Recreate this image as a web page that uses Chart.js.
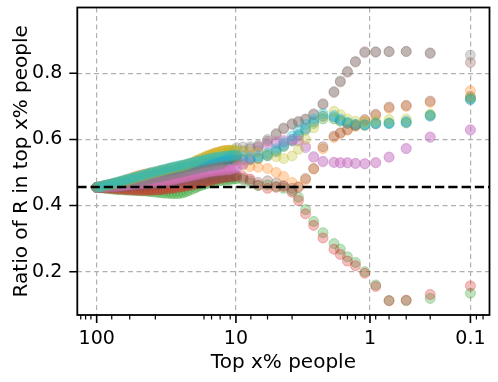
<!DOCTYPE html>
<html>
<head>
<meta charset="utf-8">
<script src="https://cdn.jsdelivr.net/npm/chart.js@4"></script>
<style>
    body { margin: 0; background: #ffffff; }
    #chart { display: block; }
</style>
</head>
<body>
<canvas id="chart" width="498" height="382"></canvas>
<script>
// x: top x% of people (the plot puts log10(x + offset) on the axis)
const topPercent = [
    99.9, 95.1, 90.5, 86.1, 81.9, 77.9, 74.1, 70.5, 67.1, 63.9,
    60.9, 57.9, 55.1, 52.5, 49.9, 47.5, 45.3, 43.1, 41.1, 39.1,
    37.1, 35.3, 33.7, 32.1, 30.5, 29.1, 27.7, 26.3, 25.1, 23.9,
    22.7, 21.7, 20.5, 19.5, 18.7, 17.7, 16.9, 16.1, 15.3, 14.5,
    13.9, 13.1, 12.5, 11.9, 11.3, 10.9, 10.3, 9.9, 8.9, 7.9,
    6.9, 5.9, 5.1, 4.5, 3.9, 3.5, 3.1, 2.7, 2.3, 1.9,
    1.7, 1.5, 1.3, 1.1, 0.9, 0.7, 0.5, 0.3, 0.1
];
const X_OFFSET = 0.113;
const xLimits = [137.6, 0.0426];
const xTickValues = [100, 10, 1, 0.1];
const xTickLabels = ['100', '10', '1', '0.1'];
const xMinorTicks = [130, 120, 110, 78, 58, 38, 17, 15, 13, 11, 7.8, 5.9, 3.9, 1.7, 1.5, 1.3, 1.1, 0.9, 0.7, 0.5, 0.3, 0.08, 0.06];

const yLimits = [0.069, 0.999];
const yTickValues = [0.2, 0.4, 0.6, 0.8];
const baselineRatio = 0.456;

// ratio of R in the top x% people, one list per run
const ratioBrownB = [
    0.455, 0.455, 0.456, 0.456, 0.457, 0.457, 0.458, 0.458, 0.459, 0.460,
    0.461, 0.462, 0.463, 0.464, 0.465, 0.466, 0.467, 0.468, 0.469, 0.470,
    0.471, 0.472, 0.473, 0.474, 0.475, 0.476, 0.477, 0.478, 0.479, 0.480,
    0.481, 0.482, 0.483, 0.484, 0.485, 0.486, 0.487, 0.488, 0.489, 0.490,
    0.491, 0.494, 0.498, 0.505, 0.515, 0.527, 0.539, 0.550, 0.565, 0.572,
    0.578, 0.595, 0.615, 0.632, 0.645, 0.652, 0.660, 0.675, 0.708, 0.742,
    0.774, 0.803, 0.834, 0.865, 0.864, 0.866, 0.866, 0.860, 0.833
];
const ratioGreenB = [
    0.455, 0.456, 0.458, 0.460, 0.462, 0.464, 0.466, 0.468, 0.470, 0.472,
    0.474, 0.476, 0.478, 0.480, 0.482, 0.484, 0.486, 0.488, 0.490, 0.492,
    0.494, 0.496, 0.498, 0.500, 0.502, 0.504, 0.506, 0.508, 0.510, 0.512,
    0.514, 0.516, 0.518, 0.520, 0.522, 0.524, 0.526, 0.528, 0.529, 0.530,
    0.531, 0.532, 0.533, 0.534, 0.535, 0.536, 0.536, 0.537, 0.537, 0.538,
    0.542, 0.550, 0.562, 0.578, 0.595, 0.610, 0.628, 0.648, 0.662, 0.662,
    0.655, 0.648, 0.642, 0.642, 0.648, 0.650, 0.650, 0.674, 0.724
];
const ratioBlue = [
    0.455, 0.457, 0.459, 0.461, 0.463, 0.465, 0.467, 0.469, 0.471, 0.473,
    0.475, 0.477, 0.479, 0.481, 0.483, 0.485, 0.487, 0.489, 0.491, 0.493,
    0.495, 0.497, 0.499, 0.501, 0.503, 0.505, 0.507, 0.509, 0.511, 0.513,
    0.515, 0.517, 0.519, 0.521, 0.523, 0.525, 0.527, 0.529, 0.531, 0.533,
    0.535, 0.536, 0.537, 0.538, 0.539, 0.540, 0.541, 0.541, 0.540, 0.540,
    0.544, 0.552, 0.566, 0.582, 0.600, 0.615, 0.633, 0.654, 0.670, 0.668,
    0.658, 0.650, 0.645, 0.644, 0.647, 0.648, 0.652, 0.670, 0.720
];
const ratioOrange = [
    0.455, 0.457, 0.459, 0.461, 0.463, 0.465, 0.468, 0.470, 0.473, 0.476,
    0.479, 0.482, 0.485, 0.488, 0.491, 0.493, 0.495, 0.497, 0.499, 0.501,
    0.503, 0.505, 0.507, 0.509, 0.511, 0.513, 0.515, 0.517, 0.519, 0.521,
    0.523, 0.526, 0.529, 0.533, 0.537, 0.541, 0.545, 0.549, 0.553, 0.557,
    0.560, 0.563, 0.565, 0.567, 0.567, 0.565, 0.555, 0.540, 0.522, 0.518,
    0.516, 0.512, 0.500, 0.488, 0.470, 0.458, 0.478, 0.510, 0.572, 0.606,
    0.618, 0.628, 0.640, 0.656, 0.672, 0.694, 0.700, 0.712, 0.747
];
const ratioGreen = [
    0.455, 0.454, 0.453, 0.452, 0.451, 0.450, 0.449, 0.448, 0.448, 0.447,
    0.447, 0.446, 0.446, 0.445, 0.445, 0.444, 0.444, 0.443, 0.442, 0.441,
    0.440, 0.439, 0.438, 0.437, 0.437, 0.436, 0.436, 0.436, 0.437, 0.439,
    0.442, 0.446, 0.450, 0.454, 0.458, 0.461, 0.464, 0.467, 0.469, 0.471,
    0.473, 0.475, 0.476, 0.477, 0.478, 0.479, 0.480, 0.481, 0.478, 0.468,
    0.460, 0.462, 0.458, 0.452, 0.445, 0.425, 0.388, 0.352, 0.318, 0.285,
    0.268, 0.245, 0.228, 0.200, 0.160, 0.113, 0.112, 0.119, 0.135
];
const ratioRed = [
    0.455, 0.454, 0.454, 0.453, 0.452, 0.452, 0.451, 0.450, 0.450, 0.449,
    0.448, 0.448, 0.447, 0.447, 0.446, 0.446, 0.446, 0.446, 0.446, 0.447,
    0.447, 0.448, 0.449, 0.450, 0.451, 0.452, 0.453, 0.455, 0.456, 0.458,
    0.459, 0.461, 0.463, 0.465, 0.467, 0.469, 0.471, 0.474, 0.476, 0.478,
    0.480, 0.482, 0.484, 0.486, 0.487, 0.488, 0.489, 0.490, 0.488, 0.480,
    0.462, 0.452, 0.455, 0.458, 0.440, 0.415, 0.375, 0.340, 0.302, 0.268,
    0.252, 0.232, 0.218, 0.195, 0.155, 0.112, 0.114, 0.131, 0.157
];
const ratioPurple = [
    0.455, 0.455, 0.455, 0.456, 0.456, 0.457, 0.457, 0.458, 0.458, 0.459,
    0.460, 0.461, 0.462, 0.463, 0.464, 0.465, 0.466, 0.467, 0.468, 0.469,
    0.470, 0.471, 0.472, 0.473, 0.474, 0.475, 0.476, 0.477, 0.479, 0.481,
    0.483, 0.485, 0.487, 0.489, 0.491, 0.493, 0.495, 0.497, 0.499, 0.500,
    0.501, 0.502, 0.503, 0.504, 0.505, 0.506, 0.508, 0.512, 0.525, 0.542,
    0.565, 0.582, 0.590, 0.594, 0.596, 0.595, 0.575, 0.548, 0.534, 0.530,
    0.529, 0.529, 0.527, 0.526, 0.530, 0.546, 0.572, 0.606, 0.628
];
const ratioBrown = [
    0.455, 0.455, 0.455, 0.456, 0.456, 0.456, 0.457, 0.457, 0.457, 0.458,
    0.458, 0.459, 0.459, 0.460, 0.460, 0.461, 0.461, 0.462, 0.462, 0.463,
    0.463, 0.464, 0.465, 0.466, 0.467, 0.468, 0.469, 0.470, 0.471, 0.472,
    0.473, 0.474, 0.475, 0.476, 0.477, 0.478, 0.479, 0.480, 0.481, 0.482,
    0.483, 0.484, 0.485, 0.486, 0.487, 0.488, 0.489, 0.488, 0.482, 0.475,
    0.470, 0.475, 0.468, 0.460, 0.452, 0.455, 0.482, 0.512, 0.578, 0.610,
    0.620, 0.630, 0.642, 0.660, 0.676, 0.698, 0.703, 0.716, 0.730
];
const ratioPink = [
    0.455, 0.455, 0.456, 0.456, 0.457, 0.458, 0.458, 0.459, 0.460, 0.461,
    0.462, 0.463, 0.464, 0.465, 0.466, 0.467, 0.468, 0.469, 0.470, 0.471,
    0.472, 0.473, 0.474, 0.475, 0.476, 0.477, 0.479, 0.481, 0.483, 0.485,
    0.487, 0.489, 0.491, 0.493, 0.495, 0.497, 0.499, 0.501, 0.503, 0.504,
    0.505, 0.506, 0.507, 0.508, 0.509, 0.510, 0.512, 0.515, 0.530, 0.550,
    0.575, 0.590, 0.595, 0.598, 0.600, 0.598, 0.580, 0.545, 0.532, 0.531,
    0.530, 0.530, 0.528, 0.527, 0.529, 0.547, 0.573, 0.608, 0.630
];
const ratioGray = [
    0.455, 0.456, 0.457, 0.458, 0.459, 0.460, 0.461, 0.462, 0.464, 0.465,
    0.467, 0.468, 0.470, 0.471, 0.473, 0.474, 0.476, 0.478, 0.480, 0.482,
    0.484, 0.486, 0.488, 0.490, 0.492, 0.494, 0.496, 0.498, 0.500, 0.502,
    0.504, 0.506, 0.508, 0.510, 0.512, 0.514, 0.516, 0.518, 0.520, 0.521,
    0.522, 0.524, 0.528, 0.535, 0.545, 0.555, 0.566, 0.575, 0.577, 0.578,
    0.582, 0.600, 0.618, 0.635, 0.648, 0.655, 0.662, 0.678, 0.705, 0.745,
    0.777, 0.806, 0.836, 0.862, 0.865, 0.865, 0.866, 0.862, 0.855
];
const ratioOlive = [
    0.455, 0.457, 0.459, 0.461, 0.463, 0.465, 0.467, 0.469, 0.472, 0.474,
    0.477, 0.479, 0.482, 0.484, 0.487, 0.489, 0.492, 0.494, 0.497, 0.499,
    0.501, 0.504, 0.506, 0.508, 0.511, 0.513, 0.515, 0.517, 0.519, 0.521,
    0.524, 0.527, 0.531, 0.535, 0.539, 0.543, 0.547, 0.551, 0.554, 0.557,
    0.560, 0.562, 0.564, 0.566, 0.567, 0.568, 0.568, 0.567, 0.565, 0.562,
    0.560, 0.555, 0.548, 0.542, 0.550, 0.570, 0.600, 0.635, 0.670, 0.685,
    0.675, 0.662, 0.655, 0.652, 0.655, 0.660, 0.662, 0.676, 0.726
];
const ratioCyan = [
    0.455, 0.457, 0.459, 0.462, 0.464, 0.466, 0.469, 0.471, 0.474, 0.476,
    0.479, 0.481, 0.484, 0.486, 0.489, 0.491, 0.494, 0.496, 0.499, 0.501,
    0.503, 0.506, 0.508, 0.510, 0.513, 0.515, 0.517, 0.519, 0.521, 0.523,
    0.525, 0.527, 0.530, 0.532, 0.534, 0.536, 0.538, 0.540, 0.542, 0.544,
    0.545, 0.547, 0.548, 0.549, 0.550, 0.551, 0.552, 0.552, 0.548, 0.546,
    0.550, 0.558, 0.572, 0.590, 0.610, 0.628, 0.645, 0.662, 0.678, 0.672,
    0.662, 0.652, 0.646, 0.645, 0.650, 0.648, 0.655, 0.672, 0.722
];

// drawing order: first in list ends up at the bottom
const seriesList = [
    { values: ratioBrownB, rgb: '140, 86, 75' },
    { values: ratioGreenB, rgb: '44, 160, 44' },
    { values: ratioBlue, rgb: '31, 119, 180' },
    { values: ratioOrange, rgb: '255, 127, 14' },
    { values: ratioGreen, rgb: '44, 160, 44' },
    { values: ratioRed, rgb: '214, 39, 40' },
    { values: ratioPurple, rgb: '148, 103, 189' },
    { values: ratioBrown, rgb: '140, 86, 75' },
    { values: ratioPink, rgb: '227, 119, 194' },
    { values: ratioGray, rgb: '127, 127, 127' },
    { values: ratioOlive, rgb: '188, 189, 34' },
    { values: ratioCyan, rgb: '23, 190, 207' }
];

const FONT = 'DejaVu Sans';

function toAxis(p) {
    return Math.log10(p + X_OFFSET);
}

// 데이터셋 만들기
const datasets = seriesList.map((s, i) => ({
    data: topPercent.map((p, j) => ({ x: toAxis(p), y: s.values[j] })),
    backgroundColor: 'rgba(' + s.rgb + ', 0.3)',
    borderColor: 'rgba(' + s.rgb + ', 0.3)',
    borderWidth: 1,
    pointRadius: 5,
    pointHoverRadius: 5,
    order: seriesList.length - i
}));

// frame, tick marks and the dashed reference line
const decorations = {
    id: 'decorations',
    afterDatasetsDraw(chart) {
        const { ctx, chartArea, scales } = chart;
        const y = scales.y.getPixelForValue(baselineRatio);
        ctx.save();
        ctx.strokeStyle = '#000';
        ctx.lineWidth = 2.6;
        ctx.setLineDash([9.25, 4]);
        ctx.beginPath();
        ctx.moveTo(chartArea.left, y);
        ctx.lineTo(chartArea.right, y);
        ctx.stroke();
        ctx.restore();
    },
    afterDraw(chart) {
        const { ctx, chartArea, scales } = chart;
        ctx.save();
        ctx.strokeStyle = '#000';
        ctx.setLineDash([]);

        // major ticks
        ctx.lineWidth = 1.6;
        ctx.beginPath();
        xTickValues.forEach(v => {
            const px = scales.x.getPixelForValue(toAxis(v));
            ctx.moveTo(px, chartArea.bottom);
            ctx.lineTo(px, chartArea.bottom + 8);
        });
        yTickValues.forEach(v => {
            const py = scales.y.getPixelForValue(v);
            ctx.moveTo(chartArea.left, py);
            ctx.lineTo(chartArea.left - 8, py);
        });
        ctx.stroke();

        // minor ticks
        ctx.lineWidth = 1.2;
        ctx.beginPath();
        xMinorTicks.forEach(v => {
            const px = scales.x.getPixelForValue(toAxis(v));
            if (px < chartArea.left || px > chartArea.right) return;
            ctx.moveTo(px, chartArea.bottom);
            ctx.lineTo(px, chartArea.bottom + 4.5);
        });
        ctx.stroke();

        // box
        ctx.lineWidth = 1.8;
        ctx.strokeRect(chartArea.left, chartArea.top,
            chartArea.right - chartArea.left, chartArea.bottom - chartArea.top);
        ctx.restore();
    }
};

const ctx = document.getElementById('chart').getContext('2d');
const ratioChart = new Chart(ctx, {
    type: 'scatter',
    data: { datasets: datasets },
    options: {
        responsive: false,
        animation: false,
        devicePixelRatio: 1,
        events: [],
        layout: { padding: { top: 7.5, right: 8.5, left: 0, bottom: 0 } },
        scales: {
            x: {
                type: 'linear',
                reverse: true,
                min: toAxis(xLimits[1]),
                max: toAxis(xLimits[0]),
                afterBuildTicks: scale => {
                    scale.ticks = xTickValues.map(v => ({ value: toAxis(v) }));
                },
                afterFit: scale => {
                    scale.height = 67;
                    scale.paddingLeft = 0;
                    scale.paddingRight = 0;
                },
                ticks: {
                    autoSkip: false,
                    maxRotation: 0,
                    padding: 13,
                    color: '#000',
                    font: { family: FONT, size: 19 },
                    callback: (value, index) => xTickLabels[index]
                },
                grid: { color: '#b0b0b0', lineWidth: 1.2, drawTicks: false },
                border: { display: false, dash: [5, 3.5] },
                title: {
                    display: true,
                    text: 'Top x% people',
                    color: '#000',
                    font: { family: FONT, size: 20 },
                    padding: { top: 0, bottom: 7 }
                }
            },
            y: {
                type: 'linear',
                min: yLimits[0],
                max: yLimits[1],
                afterBuildTicks: scale => {
                    scale.ticks = yTickValues.map(v => ({ value: v }));
                },
                afterFit: scale => {
                    scale.width = 77.3;
                    scale.paddingTop = 0;
                    scale.paddingBottom = 0;
                },
                ticks: {
                    padding: 15,
                    color: '#000',
                    font: { family: FONT, size: 19 },
                    callback: value => value.toFixed(1)
                },
                grid: { color: '#b0b0b0', lineWidth: 1.2, drawTicks: false },
                border: { display: false, dash: [5, 3.5] },
                title: {
                    display: true,
                    text: 'Ratio of R in top x% people',
                    color: '#000',
                    font: { family: FONT, size: 20 },
                    padding: { top: 10, bottom: 0 }
                }
            }
        },
        plugins: {
            legend: { display: false },
            tooltip: { enabled: false }
        }
    },
    plugins: [decorations]
});
</script>
</body>
</html>
